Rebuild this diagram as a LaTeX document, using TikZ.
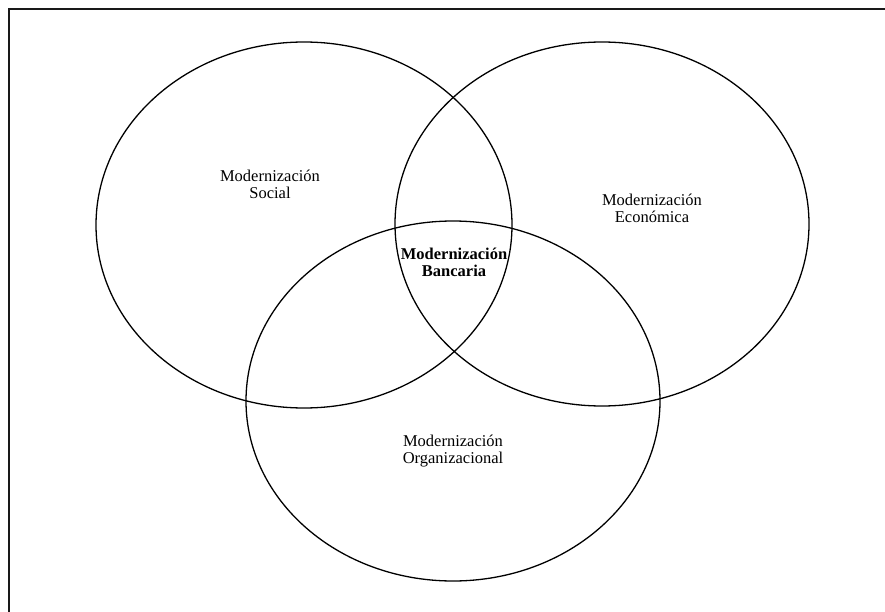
\documentclass[tikz,border=0pt]{standalone}
\usepackage{fontspec}
\setmainfont{Liberation Serif}
\usetikzlibrary{shapes.geometric}
\begin{document}
\begin{tikzpicture}[x=1pt,y=-1pt,
  circlebox/.style={ellipse, draw=black, line width=1.3pt, inner sep=0pt},
  lbl/.style={align=center, font=\fontsize{16.5}{17}\selectfont, inner sep=0pt},
  core/.style={lbl, font=\fontsize{16.5}{17}\selectfont\bfseries}]
  \useasboundingbox (0,0) rectangle (885,612);
  \clip (0,0) rectangle (885,612);
  % outer frame (only its top and left sides fall on the page)
  \draw[line width=2pt, black!90] (8.5,620) -- (8.5,9.5) -- (900,9.5);
  % the three spheres of modernisation
  \node[circlebox, minimum width=416, minimum height=366] (social) at (304,225) {};
  \node[circlebox, minimum width=414, minimum height=364] (econ) at (602,224) {};
  \node[circlebox, minimum width=414, minimum height=360] (org) at (453,401) {};
  % labels
  \node[lbl] (tsocial) at (270,184) {Modernización\\Social};
  \node[lbl] (tecon) at (652,208) {Modernización\\Económica};
  \node[lbl] (torg) at (453,451) {Modernización\\Organizacional};
  \node[core] (tbank) at (454,262) {Modernización\\Bancaria};
\end{tikzpicture}
\end{document}
